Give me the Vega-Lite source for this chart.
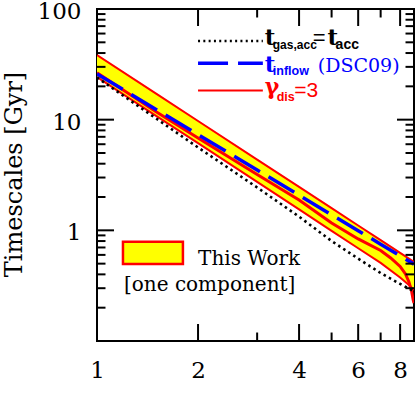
{
  "$schema": "https://vega.github.io/schema/vega-lite/v6.json",
  "width": 317,
  "height": 332,
  "autosize": "none",
  "padding": {"left": 97, "top": 9, "right": 2, "bottom": 66},
  "background": "white",
  "config": {
    "view": {"stroke": "black", "strokeWidth": 2},
    "axis": {
      "domain": false, "grid": false,
      "labelFont": "DejaVu Serif", "labelFontSize": 23, "labelColor": "black",
      "titleFont": "DejaVu Serif", "titleFontSize": 24, "titleFontWeight": "normal", "titleColor": "black"
    }
  },
  "datasets": {
    "band": [
      {"x": 1, "hi": 38.4, "lo": 24.3},
      {"x": 1.5, "hi": 17.2, "lo": 10.84},
      {"x": 2, "hi": 9.73, "lo": 6.13},
      {"x": 3, "hi": 4.36, "lo": 2.74},
      {"x": 4, "hi": 2.47, "lo": 1.545},
      {"x": 5, "hi": 1.585, "lo": 0.99},
      {"x": 6, "hi": 1.105, "lo": 0.689},
      {"x": 7, "hi": 0.815, "lo": 0.508},
      {"x": 8, "hi": 0.626, "lo": 0.375},
      {"x": 8.5, "hi": 0.555, "lo": 0.321},
      {"x": 8.8, "hi": 0.518, "lo": 0.289}
    ],
    "curves": [
      {"x": 1, "t": 26.5, "curve": "gamma"},
      {"x": 1.5, "t": 11.8, "curve": "gamma"},
      {"x": 2, "t": 6.83, "curve": "gamma"},
      {"x": 3, "t": 3.2, "curve": "gamma"},
      {"x": 4, "t": 1.88, "curve": "gamma"},
      {"x": 5, "t": 1.166, "curve": "gamma"},
      {"x": 6, "t": 0.836, "curve": "gamma"},
      {"x": 7, "t": 0.658, "curve": "gamma"},
      {"x": 7.5, "t": 0.563, "curve": "gamma"},
      {"x": 8, "t": 0.472, "curve": "gamma"},
      {"x": 8.3, "t": 0.404, "curve": "gamma"},
      {"x": 8.5, "t": 0.342, "curve": "gamma"},
      {"x": 8.65, "t": 0.284, "curve": "gamma"},
      {"x": 8.75, "t": 0.235, "curve": "gamma"},
      {"x": 8.8, "t": 0.22, "curve": "gamma"},
      {"x": 1, "t": 25.9, "curve": "inflow"},
      {"x": 1.5, "t": 12.38, "curve": "inflow"},
      {"x": 2, "t": 7.34, "curve": "inflow"},
      {"x": 3, "t": 3.51, "curve": "inflow"},
      {"x": 4, "t": 2.08, "curve": "inflow"},
      {"x": 5, "t": 1.383, "curve": "inflow"},
      {"x": 6, "t": 0.993, "curve": "inflow"},
      {"x": 7, "t": 0.75, "curve": "inflow"},
      {"x": 8, "t": 0.588, "curve": "inflow"},
      {"x": 8.8, "t": 0.495, "curve": "inflow"},
      {"x": 1, "t": 24.05, "curve": "acc"},
      {"x": 1.5, "t": 10.25, "curve": "acc"},
      {"x": 2, "t": 5.61, "curve": "acc"},
      {"x": 3, "t": 2.44, "curve": "acc"},
      {"x": 4, "t": 1.33, "curve": "acc"},
      {"x": 5, "t": 0.8, "curve": "acc"},
      {"x": 6, "t": 0.555, "curve": "acc"},
      {"x": 7, "t": 0.411, "curve": "acc"},
      {"x": 8, "t": 0.328, "curve": "acc"},
      {"x": 8.8, "t": 0.281, "curve": "acc"}
    ],
    "one": [{}]
  },
  "layer": [
    {
      "data": {"name": "band"},
      "mark": {"type": "area", "fill": "#ffff00", "clip": true},
      "encoding": {
        "x": {
          "field": "x", "type": "quantitative",
          "scale": {"type": "log", "domain": [1, 8.8], "nice": false, "zero": false},
          "axis": {
            "orient": "bottom", "offset": 0,
            "values": [1, 2, 4, 6, 8],
            "format": "d",
            "ticks": false, "tickSize": 0,
            "labelPadding": 18,
            "labelFlush": false,
            "labelOverlap": false,
            "title": "1+z",
            "titleX": 160.5, "titleY": 394,
            "titleBaseline": "alphabetic", "titleAlign": "center", "titleAnchor": null
          }
        },
        "y": {
          "field": "hi", "type": "quantitative",
          "scale": {"type": "log", "domain": [0.1, 100], "nice": false, "zero": false},
          "axis": {
            "orient": "left", "offset": 0,
            "values": [1, 10, 100],
            "format": "d",
            "ticks": false, "tickSize": 0,
            "labelPadding": 16,
            "labelOffset": 2.5,
            "labelFlush": false,
            "labelOverlap": false,
            "labelBaseline": "middle",
            "title": "Timescales [Gyr]",
            "titleX": -76, "titleY": 165, "titleAngle": -90,
            "titleBaseline": "alphabetic", "titleAlign": "center", "titleAnchor": null
          }
        },
        "y2": {"field": "lo"}
      }
    },
    {
      "data": {"name": "band"},
      "mark": {"type": "line", "color": "#ff0000", "strokeWidth": 2, "clip": true},
      "encoding": {
        "x": {"field": "x", "type": "quantitative", "axis": null},
        "y": {"field": "hi", "type": "quantitative", "axis": null}
      }
    },
    {
      "data": {"name": "band"},
      "mark": {"type": "line", "color": "#ff0000", "strokeWidth": 2, "clip": true},
      "encoding": {
        "x": {"field": "x", "type": "quantitative", "axis": null},
        "y": {"field": "lo", "type": "quantitative", "axis": null}
      }
    },
    {
      "data": {"name": "curves"},
      "transform": [{"filter": "datum.curve == 'gamma'"}],
      "mark": {"type": "line", "color": "#ff0000", "strokeWidth": 3, "clip": true},
      "encoding": {
        "x": {"field": "x", "type": "quantitative", "axis": null},
        "y": {"field": "t", "type": "quantitative", "axis": null}
      }
    },
    {
      "data": {"name": "curves"},
      "transform": [{"filter": "datum.curve == 'inflow'"}],
      "mark": {"type": "line", "color": "#0000ff", "strokeWidth": 3.5, "strokeDash": [30, 10], "clip": true},
      "encoding": {
        "x": {"field": "x", "type": "quantitative", "axis": null},
        "y": {"field": "t", "type": "quantitative", "axis": null}
      }
    },
    {
      "data": {"name": "curves"},
      "transform": [{"filter": "datum.curve == 'acc'"}],
      "mark": {"type": "line", "color": "black", "strokeWidth": 2.6, "strokeDash": [2.5, 3.5], "clip": true},
      "encoding": {
        "x": {"field": "x", "type": "quantitative", "axis": null},
        "y": {"field": "t", "type": "quantitative", "axis": null}
      }
    },
    {
      "data": {"values": [{"zv": 2}, {"zv": 4}, {"zv": 6}, {"zv": 8}]},
      "mark": {"type": "rule", "color": "black", "strokeWidth": 2},
      "encoding": {
        "x": {"field": "zv", "type": "quantitative", "axis": null},
        "y": {"datum": 0.1, "type": "quantitative", "axis": null},
        "y2": {"datum": 0.1424}
      }
    },
    {
      "data": {"values": [{"zv": 3}, {"zv": 5}, {"zv": 7}]},
      "mark": {"type": "rule", "color": "black", "strokeWidth": 2},
      "encoding": {
        "x": {"field": "zv", "type": "quantitative", "axis": null},
        "y": {"datum": 0.1, "type": "quantitative", "axis": null},
        "y2": {"datum": 0.1193}
      }
    },
    {
      "data": {"values": [{"zv": 2}, {"zv": 4}, {"zv": 6}, {"zv": 8}]},
      "mark": {"type": "rule", "color": "black", "strokeWidth": 2},
      "encoding": {
        "x": {"field": "zv", "type": "quantitative", "axis": null},
        "y": {"datum": 100, "type": "quantitative", "axis": null},
        "y2": {"datum": 70.2}
      }
    },
    {
      "data": {"values": [{"zv": 3}, {"zv": 5}, {"zv": 7}]},
      "mark": {"type": "rule", "color": "black", "strokeWidth": 2},
      "encoding": {
        "x": {"field": "zv", "type": "quantitative", "axis": null},
        "y": {"datum": 100, "type": "quantitative", "axis": null},
        "y2": {"datum": 83.8}
      }
    },
    {
      "data": {"values": [{"yv": 1}, {"yv": 10}]},
      "mark": {"type": "rule", "color": "black", "strokeWidth": 2},
      "encoding": {
        "y": {"field": "yv", "type": "quantitative", "axis": null},
        "x": {"datum": 1, "type": "quantitative", "axis": null},
        "x2": {"datum": 1.1236}
      }
    },
    {
      "data": {"values": [{"yv": 0.2}, {"yv": 0.3}, {"yv": 0.4}, {"yv": 0.5}, {"yv": 0.6}, {"yv": 0.7}, {"yv": 0.8}, {"yv": 0.9}, {"yv": 2}, {"yv": 3}, {"yv": 4}, {"yv": 5}, {"yv": 6}, {"yv": 7}, {"yv": 8}, {"yv": 9}, {"yv": 20}, {"yv": 30}, {"yv": 40}, {"yv": 50}, {"yv": 60}, {"yv": 70}, {"yv": 80}, {"yv": 90}]},
      "mark": {"type": "rule", "color": "black", "strokeWidth": 2},
      "encoding": {
        "y": {"field": "yv", "type": "quantitative", "axis": null},
        "x": {"datum": 1, "type": "quantitative", "axis": null},
        "x2": {"datum": 1.06}
      }
    },
    {
      "data": {"values": [{"yv": 1}, {"yv": 10}]},
      "mark": {"type": "rule", "color": "black", "strokeWidth": 2},
      "encoding": {
        "y": {"field": "yv", "type": "quantitative", "axis": null},
        "x": {"datum": 8.8, "type": "quantitative", "axis": null},
        "x2": {"datum": 7.832}
      }
    },
    {
      "data": {"values": [{"yv": 0.2}, {"yv": 0.3}, {"yv": 0.4}, {"yv": 0.5}, {"yv": 0.6}, {"yv": 0.7}, {"yv": 0.8}, {"yv": 0.9}, {"yv": 2}, {"yv": 3}, {"yv": 4}, {"yv": 5}, {"yv": 6}, {"yv": 7}, {"yv": 8}, {"yv": 9}, {"yv": 20}, {"yv": 30}, {"yv": 40}, {"yv": 50}, {"yv": 60}, {"yv": 70}, {"yv": 80}, {"yv": 90}]},
      "mark": {"type": "rule", "color": "black", "strokeWidth": 2},
      "encoding": {
        "y": {"field": "yv", "type": "quantitative", "axis": null},
        "x": {"datum": 8.8, "type": "quantitative", "axis": null},
        "x2": {"datum": 8.302}
      }
    },
    {
      "data": {"name": "one"},
      "mark": {"type": "rule", "color": "black", "strokeWidth": 2.4, "strokeDash": [2, 3.3]},
      "encoding": {
        "x": {"datum": 2.0, "type": "quantitative", "axis": null},
        "x2": {"datum": 3.12},
        "y": {"datum": 51.4, "type": "quantitative", "axis": null}
      }
    },
    {
      "data": {"name": "one"},
      "mark": {"type": "rule", "color": "#0000ff", "strokeWidth": 3.5, "strokeDash": [30, 10]},
      "encoding": {
        "x": {"datum": 2.0, "type": "quantitative", "axis": null},
        "x2": {"datum": 3.12},
        "y": {"datum": 32.3, "type": "quantitative", "axis": null}
      }
    },
    {
      "data": {"name": "one"},
      "mark": {"type": "rule", "color": "#ff0000", "strokeWidth": 2},
      "encoding": {
        "x": {"datum": 2.0, "type": "quantitative", "axis": null},
        "x2": {"datum": 3.12},
        "y": {"datum": 18.3, "type": "quantitative", "axis": null}
      }
    },
    {
      "data": {"name": "one"},
      "mark": {"type": "text", "text": "t", "font": "DejaVu Serif", "fontWeight": "bold", "fontSize": 23, "align": "left", "baseline": "alphabetic", "color": "black"},
      "encoding": {"x": {"datum": 3.1623, "type": "quantitative", "axis": null}, "y": {"datum": 47.3, "type": "quantitative", "axis": null}}
    },
    {
      "data": {"name": "one"},
      "mark": {"type": "text", "text": "gas,acc", "font": "Liberation Sans", "fontWeight": "bold", "fontSize": 12, "align": "left", "baseline": "alphabetic", "color": "black"},
      "encoding": {"x": {"datum": 3.34, "type": "quantitative", "axis": null}, "y": {"datum": 43.5, "type": "quantitative", "axis": null}}
    },
    {
      "data": {"name": "one"},
      "mark": {"type": "text", "text": "=", "font": "Liberation Sans", "fontSize": 22, "align": "left", "baseline": "alphabetic", "color": "black"},
      "encoding": {"x": {"datum": 4.39, "type": "quantitative", "axis": null}, "y": {"datum": 47.3, "type": "quantitative", "axis": null}}
    },
    {
      "data": {"name": "one"},
      "mark": {"type": "text", "text": "t", "font": "DejaVu Serif", "fontWeight": "bold", "fontSize": 23, "align": "left", "baseline": "alphabetic", "color": "black"},
      "encoding": {"x": {"datum": 4.86, "type": "quantitative", "axis": null}, "y": {"datum": 47.3, "type": "quantitative", "axis": null}}
    },
    {
      "data": {"name": "one"},
      "mark": {"type": "text", "text": "acc", "font": "Liberation Sans", "fontWeight": "bold", "fontSize": 14, "align": "left", "baseline": "alphabetic", "color": "black"},
      "encoding": {"x": {"datum": 5.14, "type": "quantitative", "axis": null}, "y": {"datum": 43.5, "type": "quantitative", "axis": null}}
    },
    {
      "data": {"name": "one"},
      "mark": {"type": "text", "text": "t", "font": "DejaVu Serif", "fontWeight": "bold", "fontSize": 23, "align": "left", "baseline": "alphabetic", "color": "#0000ff"},
      "encoding": {"x": {"datum": 3.1623, "type": "quantitative", "axis": null}, "y": {"datum": 26.97, "type": "quantitative", "axis": null}}
    },
    {
      "data": {"name": "one"},
      "mark": {"type": "text", "text": "inflow", "font": "Liberation Sans", "fontWeight": "bold", "fontSize": 12.5, "align": "left", "baseline": "alphabetic", "color": "#0000ff"},
      "encoding": {"x": {"datum": 3.34, "type": "quantitative", "axis": null}, "y": {"datum": 25.33, "type": "quantitative", "axis": null}}
    },
    {
      "data": {"name": "one"},
      "mark": {"type": "text", "text": "(DSC09)", "font": "DejaVu Serif", "fontSize": 19, "align": "left", "baseline": "alphabetic", "color": "#0000ff"},
      "encoding": {"x": {"datum": 4.548, "type": "quantitative", "axis": null}, "y": {"datum": 26.97, "type": "quantitative", "axis": null}}
    },
    {
      "data": {"name": "one"},
      "mark": {"type": "text", "text": "γ", "font": "DejaVu Serif", "fontWeight": "bold", "fontSize": 22, "align": "left", "baseline": "alphabetic", "color": "#ff0000"},
      "encoding": {"x": {"datum": 3.1623, "type": "quantitative", "axis": null}, "y": {"datum": 17.0, "type": "quantitative", "axis": null}}
    },
    {
      "data": {"name": "one"},
      "mark": {"type": "text", "text": "dis", "font": "Liberation Sans", "fontWeight": "bold", "fontSize": 12.5, "align": "left", "baseline": "alphabetic", "color": "#ff0000"},
      "encoding": {"x": {"datum": 3.43, "type": "quantitative", "axis": null}, "y": {"datum": 14.76, "type": "quantitative", "axis": null}}
    },
    {
      "data": {"name": "one"},
      "mark": {"type": "text", "text": "=3", "font": "Liberation Sans", "fontSize": 21, "align": "left", "baseline": "alphabetic", "color": "#ff0000"},
      "encoding": {"x": {"datum": 3.87, "type": "quantitative", "axis": null}, "y": {"datum": 16.03, "type": "quantitative", "axis": null}}
    },
    {
      "data": {"name": "one"},
      "mark": {"type": "rect", "fill": "#ffff00", "stroke": "#ff0000", "strokeWidth": 2.5},
      "encoding": {
        "x": {"datum": 1.195, "type": "quantitative", "axis": null},
        "x2": {"datum": 1.803},
        "y": {"datum": 0.79, "type": "quantitative", "axis": null},
        "y2": {"datum": 0.497}
      }
    },
    {
      "data": {"name": "one"},
      "mark": {"type": "text", "text": "This Work", "font": "DejaVu Serif", "fontSize": 20, "align": "left", "baseline": "alphabetic", "color": "black"},
      "encoding": {"x": {"datum": 2.0, "type": "quantitative", "axis": null}, "y": {"datum": 0.487, "type": "quantitative", "axis": null}}
    },
    {
      "data": {"name": "one"},
      "mark": {"type": "text", "text": "[one component]", "font": "DejaVu Serif", "fontSize": 20, "align": "left", "baseline": "alphabetic", "color": "black"},
      "encoding": {"x": {"datum": 1.2032, "type": "quantitative", "axis": null}, "y": {"datum": 0.2835, "type": "quantitative", "axis": null}}
    }
  ],
  "resolve": {"axis": {"x": "independent", "y": "independent"}}
}
